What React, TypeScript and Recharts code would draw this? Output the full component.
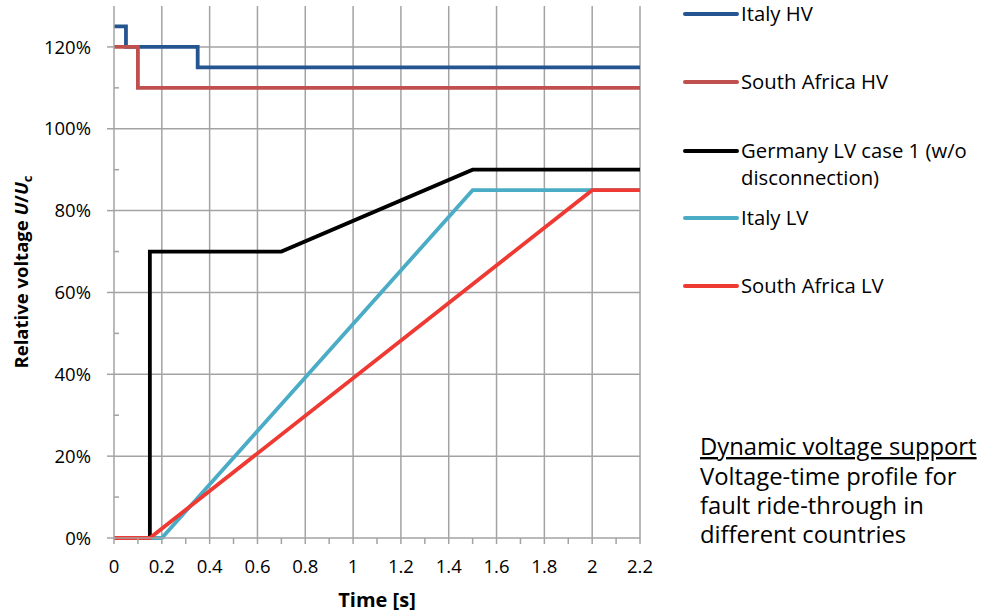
import React from "react";
import { LineChart, Line, XAxis, YAxis, ReferenceLine, Label } from "recharts";

// time [s] / relative voltage [%] pairs
const italyHvT = [0, 0.05, 0.05, 0.35, 0.35, 2.2];
const italyHvV = [125, 125, 120, 120, 115, 115];
const saHvT = [0, 0.1, 0.1, 2.2];
const saHvV = [120, 120, 110, 110];
const germanyT = [0, 0.15, 0.15, 0.7, 1.5, 2.2];
const germanyV = [0, 0, 70, 70, 90, 90];
const italyLvT = [0, 0.2, 1.5, 2.2];
const italyLvV = [0, 0, 85, 85];
const saLvT = [0, 0.15, 2.0, 2.2];
const saLvV = [0, 0, 85, 85];

const xTicks = [0, 0.1, 0.2, 0.3, 0.4, 0.5, 0.6, 0.7, 0.8, 0.9, 1, 1.1, 1.2, 1.3, 1.4, 1.5, 1.6, 1.7, 1.8, 1.9, 2, 2.1, 2.2];
const xMajor = [0.2, 0.4, 0.6, 0.8, 1, 1.2, 1.4, 1.6, 1.8, 2, 2.2];
const yTicks = [0, 10, 20, 30, 40, 50, 60, 70, 80, 90, 100, 110, 120];
const yMajor = [20, 40, 60, 80, 100, 120];

const names = ["Italy HV", "South Africa HV", "Germany LV case 1 (w/o", "Italy LV", "South Africa LV"];
const colors = ["#245590", "#c0504d", "#000000", "#4bacc6", "#ee3a33"];
const noteLines = ["Voltage-time profile for", "fault ride-through in", "different countries"];

const toRows = (t: number[], v: number[]) => t.map((x, i) => ({ t: x, v: v[i] }));
const series = [
  toRows(italyHvT, italyHvV),
  toRows(saHvT, saHvV),
  toRows(germanyT, germanyV),
  toRows(italyLvT, italyLvV),
  toRows(saLvT, saLvV),
];

const FONT = "'Open Sans', Lato, sans-serif";
const GRID = "#a3a3a3";

const isMajor = (v: number, step: number) => Math.abs(v / step - Math.round(v / step)) < 1e-6;

function XTick(props: any) {
  const { x, y, payload } = props;
  if (!isMajor(payload.value, 0.2)) return null;
  return (
    <text x={x} y={y + 21} textAnchor="middle" fontFamily={FONT} fontSize={18.5} fill="#000">
      {String(+payload.value.toFixed(1))}
    </text>
  );
}

function YTick(props: any) {
  const { x, y, payload } = props;
  const axisX = x + 23;
  const major = isMajor(payload.value, 20);
  return (
    <g>
      {major ? (
        <line x1={axisX - 7} x2={axisX} y1={y} y2={y} stroke={GRID} strokeWidth={1.5} />
      ) : (
        <line x1={axisX} x2={axisX + 5} y1={y} y2={y} stroke={GRID} strokeWidth={1.5} />
      )}
      {major || payload.value === 0 ? (
        <text x={x} y={y} dy="0.36em" textAnchor="end" fontFamily={FONT} fontSize={18.5} fill="#000">
          {payload.value}%
        </text>
      ) : null}
    </g>
  );
}

function YLabel(props: any) {
  const { viewBox } = props;
  const cx = 28;
  const cy = viewBox.y + viewBox.height / 2;
  return (
    <text x={cx} y={cy} transform={`rotate(-90 ${cx} ${cy})`} textAnchor="middle" fontFamily={FONT} fontSize={18.5} fontWeight="bold" fill="#000">
      Relative voltage <tspan fontStyle="italic">U</tspan>/<tspan fontStyle="italic">U</tspan>
      <tspan fontSize={13} dy={4}>c</tspan>
    </text>
  );
}

function XLabel(props: any) {
  const { viewBox } = props;
  return (
    <text x={viewBox.x + viewBox.width / 2} y={607} textAnchor="middle" fontFamily={FONT} fontSize={20} fontWeight="bold" fill="#000">
      Time [s]
    </text>
  );
}

const legendY = [14, 82, 151, 218, 286];

export default function App() {
  return (
    <div style={{ position: "absolute", left: 0, top: 0, width: 987, height: 616, background: "#fff" }}>
      <LineChart width={660} height={616} margin={{ top: 6, right: 20, bottom: 28, left: 0 }}>
        <XAxis
          dataKey="t"
          type="number"
          domain={[0, 2.2]}
          ticks={xTicks}
          interval={0}
          allowDuplicatedCategory={false}
          height={50}
          tickSize={6}
          tickMargin={8}
          stroke={GRID}
          strokeWidth={1.5}
          tick={<XTick />}
        >
          <Label content={<XLabel />} />
        </XAxis>
        <YAxis
          dataKey="v"
          type="number"
          domain={[0, 130]}
          ticks={yTicks}
          interval={0}
          width={114}
          tickSize={7}
          tickMargin={16}
          tickLine={false}
          stroke={GRID}
          strokeWidth={1.5}
          tick={<YTick />}
        >
          <Label content={<YLabel />} />
        </YAxis>
        {xMajor.map((v) => (
          <ReferenceLine key={`gx${v}`} x={v} stroke={GRID} strokeWidth={1.5} />
        ))}
        {yMajor.map((v) => (
          <ReferenceLine key={`gy${v}`} y={v} stroke={GRID} strokeWidth={1.5} />
        ))}
        {series.map((d, i) => (
          <Line
            key={names[i]}
            data={d}
            dataKey="v"
            type="linear"
            stroke={colors[i]}
            strokeWidth={3.8}
            dot={false}
            isAnimationActive={false}
          />
        ))}
      </LineChart>
      <svg width={987} height={616} style={{ position: "absolute", left: 0, top: 0, pointerEvents: "none" }}>
        {names.map((n, i) => (
          <g key={n}>
            <line x1={685} x2={737} y1={legendY[i]} y2={legendY[i]} stroke={colors[i]} strokeWidth={4} strokeLinecap="round" />
            <text x={741} y={legendY[i] + 7} fontFamily={FONT} fontSize={20.3} fill="#000">
              {n}
            </text>
          </g>
        ))}
        <text x={741} y={legendY[2] + 34} fontFamily={FONT} fontSize={20.3} fill="#000">
          disconnection)
        </text>
        <text x={700} y={455} fontFamily={FONT} fontSize={23.8} fill="#000" textDecoration="underline">
          Dynamic voltage support
        </text>
        {noteLines.map((s, i) => (
          <text key={s} x={700} y={485 + i * 29} fontFamily={FONT} fontSize={23.8} fill="#000">
            {s}
          </text>
        ))}
      </svg>
    </div>
  );
}
